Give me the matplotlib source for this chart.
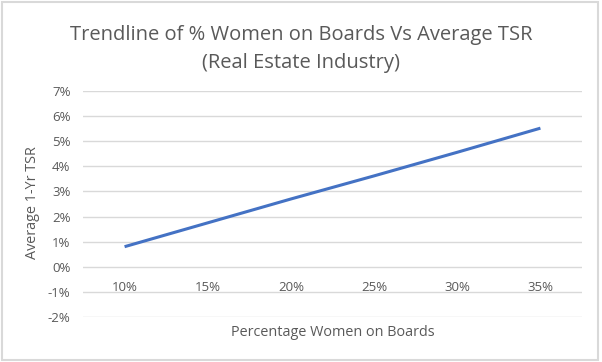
import matplotlib.pyplot as plt
from matplotlib.patches import Rectangle

# data
categories = ['10%', '15%', '20%', '25%', '30%', '35%']
avg_tsr = [0.80, 1.75, 2.70, 3.62, 4.56, 5.52]
y_ticks = [-2, -1, 0, 1, 2, 3, 4, 5, 6, 7]

plt.rcParams['font.family'] = ['Open Sans', 'DejaVu Sans']
grey = '#595959'

fig = plt.figure(figsize=(6.02, 3.62), dpi=100)
ax = fig.add_axes([83 / 602, 1 - 317 / 362, 499 / 602, 226 / 362])

x = range(len(categories))
ax.plot(x, avg_tsr, color='#4472c4', lw=2.2, solid_capstyle='butt')

ax.set_xlim(-0.5, len(categories) - 0.5)
ax.set_ylim(-2, 7)
ax.set_yticks(y_ticks)
ax.set_yticklabels(['%d%%' % v for v in y_ticks])
ax.grid(axis='y', color='#d9d9d9', lw=1)
ax.set_axisbelow(True)

ax.set_xticks(list(x))
ax.set_xticklabels(categories)
ax.spines['bottom'].set_position(('data', 0))
for s in ax.spines.values():
    s.set_visible(False)
ax.tick_params(axis='both', length=0, colors=grey, labelsize=9.5)
ax.tick_params(axis='x', pad=10)
ax.tick_params(axis='y', pad=9)

fig.text(0.5, 1 - 35 / 362, 'Trendline of % Women on Boards Vs Average TSR',
         ha='center', va='center', fontsize=14.5, color=grey)
fig.text(0.5, 1 - 63 / 362, '(Real Estate Industry)',
         ha='center', va='center', fontsize=14.5, color=grey)
fig.text(333 / 602, 1 - 332 / 362, 'Percentage Women on Boards',
         ha='center', va='center', fontsize=10.4, color=grey)
fig.text(33 / 602, 1 - 203 / 362, 'Average 1-Yr TSR', rotation=90,
         ha='center', va='center', fontsize=10.4, color=grey)

fig.patches.append(Rectangle((2 / 602, 2 / 362), 596 / 602, 358 / 362,
                             transform=fig.transFigure, fill=False,
                             edgecolor='#d9d9d9', lw=1.5))

fig.savefig('out.png', dpi=100)
